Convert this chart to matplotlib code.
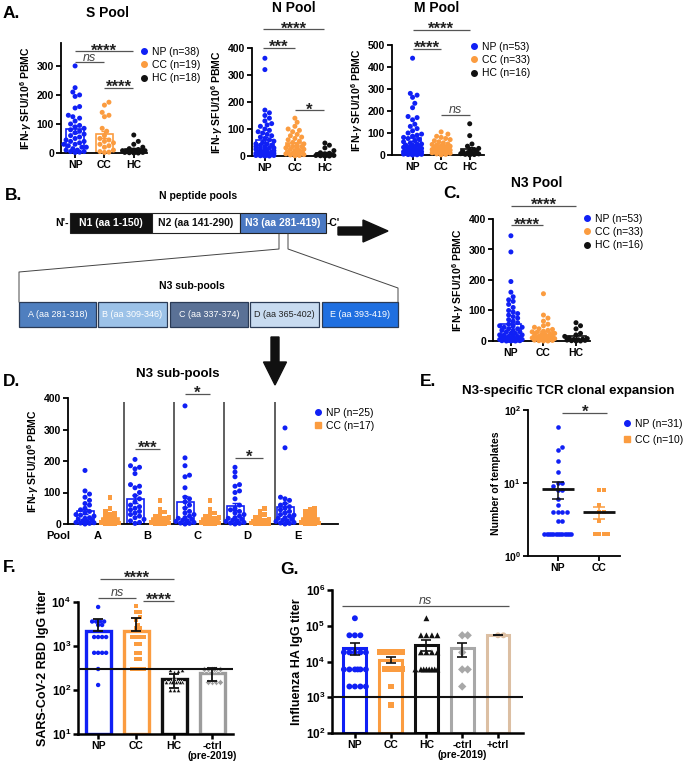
import numpy as np
import matplotlib
matplotlib.use('Agg')
import matplotlib.pyplot as plt
from matplotlib import patches
from matplotlib.lines import Line2D
from matplotlib.ticker import NullLocator

plt.rcParams['font.family'] = ['Liberation Sans', 'DejaVu Sans']
plt.rcParams['font.weight'] = 'bold'
plt.rcParams['axes.labelweight'] = 'bold'
plt.rcParams['mathtext.fontset'] = 'custom'
plt.rcParams['mathtext.rm'] = 'Liberation Sans:bold'
plt.rcParams['mathtext.it'] = 'Liberation Sans:italic:bold'
plt.rcParams['mathtext.bf'] = 'Liberation Sans:bold'
plt.rcParams['axes.linewidth'] = 1.3

BLUE = '#1020f5'
ORANGE = '#fb9c40'
BLACK = '#111111'
GRAY = '#9c9c9c'
TAN = '#dcbfa3'
LINE = '#555555'

# ---------------- data ----------------
groups3 = ['NP', 'CC', 'HC']

# A. S pool
s_np = [300, 225, 210, 200, 195, 160, 155, 130, 125, 120, 110, 100, 95, 90, 85, 80, 75, 70, 65,
        60, 55, 50, 45, 40, 40, 35, 30, 30, 25, 20, 20, 15, 10, 10, 5, 5, 3, 2]
s_cc = [175, 165, 140, 130, 125, 85, 75, 60, 50, 45, 40, 35, 30, 25, 20, 10, 5, 3, 2]
s_hc = [62, 40, 30, 20, 15, 12, 10, 8, 8, 6, 5, 5, 3, 2, 2, 1, 0, 0]

# A. N pool
n_np = [362, 320, 170, 160, 150, 140, 130, 120, 115, 110, 100, 95, 90, 85, 80, 75, 70, 65, 60, 55,
        50, 45, 45, 40, 40, 35, 35, 30, 30, 30, 25, 25, 20, 20, 20, 15, 15, 15, 10, 10,
        10, 10, 8, 6, 5, 5, 4, 3, 2, 2, 1, 0, 0]
n_cc = [140, 125, 110, 100, 95, 90, 80, 75, 70, 65, 60, 55, 50, 45, 40, 40, 35, 35, 30, 30,
        25, 25, 20, 20, 15, 15, 10, 10, 8, 5, 4, 2, 1]
n_hc = [48, 40, 30, 20, 12, 10, 8, 6, 5, 4, 3, 2, 2, 1, 0, 0]

# A. M pool
m_np = [440, 280, 272, 262, 235, 215, 175, 170, 160, 140, 130, 120, 110, 100, 95, 90, 85, 80, 75, 70,
        65, 60, 55, 50, 50, 45, 45, 40, 40, 35, 35, 30, 30, 25, 25, 20, 20, 20, 15, 15,
        15, 10, 10, 10, 8, 6, 5, 5, 4, 3, 2, 1, 0]
m_cc = [105, 95, 85, 80, 75, 70, 65, 60, 55, 50, 48, 45, 42, 40, 38, 35, 32, 30, 28, 25,
        25, 22, 20, 20, 18, 15, 15, 12, 10, 8, 5, 3, 1]
m_hc = [142, 88, 50, 40, 30, 25, 20, 15, 12, 10, 8, 6, 5, 3, 2, 0]

# C. N3 pool
n3_np = [345, 292, 195, 160, 145, 135, 130, 120, 110, 100, 95, 90, 85, 80, 75, 70, 65, 60, 55, 50,
         50, 45, 45, 40, 40, 35, 35, 30, 30, 25, 25, 20, 20, 20, 15, 15, 15, 10, 10, 10,
         8, 6, 5, 5, 4, 3, 2, 2, 1, 1, 0, 0, 0]
n3_cc = [155, 85, 75, 65, 55, 50, 45, 40, 38, 35, 32, 30, 28, 25, 22, 20, 20, 18, 15, 15,
         12, 12, 10, 10, 8, 8, 5, 5, 3, 2, 1, 0, 0]
n3_hc = [60, 50, 40, 25, 20, 15, 10, 8, 6, 5, 4, 3, 2, 1, 0, 0]

# D. N3 sub-pools
sub_labels = ['A', 'B', 'C', 'D', 'E']
subA_np = [170, 105, 95, 85, 75, 65, 60, 50, 45, 40, 35, 30, 28, 25, 20, 18, 15, 12, 10, 8, 5, 4, 3, 2, 0]
subA_cc = [85, 50, 40, 35, 30, 25, 20, 15, 12, 10, 8, 6, 5, 3, 2, 1, 0]
subB_np = [205, 185, 180, 175, 160, 125, 120, 115, 100, 90, 80, 70, 60, 55, 50, 45, 40, 35, 30, 25, 20, 15, 10, 5, 2]
subB_cc = [75, 45, 38, 30, 25, 20, 18, 15, 12, 10, 8, 6, 5, 3, 2, 1, 0]
subC_np = [375, 210, 185, 155, 150, 115, 85, 80, 70, 60, 50, 40, 35, 30, 25, 20, 18, 15, 12, 10, 8, 5, 3, 2, 0]
subC_cc = [75, 45, 35, 30, 25, 20, 18, 15, 12, 10, 8, 6, 5, 3, 2, 1, 0]
subD_np = [180, 165, 150, 125, 120, 105, 100, 80, 60, 50, 45, 40, 35, 30, 25, 20, 18, 15, 12, 10, 8, 5, 3, 2, 0]
subD_cc = [48, 40, 30, 25, 20, 15, 12, 10, 8, 6, 5, 4, 3, 2, 1, 0, 0]
subE_np = [305, 242, 85, 80, 75, 65, 60, 55, 50, 45, 40, 35, 30, 28, 25, 20, 18, 15, 12, 10, 8, 5, 3, 2, 0]
subE_cc = [50, 45, 40, 35, 30, 25, 20, 15, 12, 10, 8, 6, 5, 3, 2, 1, 0]

# E. TCR templates
tcr_np = [58, 31, 28, 20, 14, 10, 10, 9, 8, 8, 6, 5, 4, 4, 4, 4, 3, 3,
          2, 2, 2, 2, 2, 2, 2, 2, 2, 2, 2, 2, 2]
tcr_cc = [8, 8, 5, 4, 4, 3, 2, 2, 2, 2]

# F. RBD IgG titer
f_groups = ['NP', 'CC', 'HC', '-ctrl\n(pre-2019)']
rbd_np = [7700, 3600, 3600, 3600, 3600, 3000, 3000, 1600, 1600, 1600, 1600, 700, 700, 700, 700, 300, 130]
rbd_cc = [8100, 6000, 6000, 4500, 3900, 3000, 2500, 2500, 1600, 1600, 1600, 1600, 1100, 1100,
          700, 700, 500, 500, 300, 300, 300, 300]
rbd_hc = [280, 280, 270, 250, 200, 150, 150, 150, 150, 150, 150, 150, 150, 100, 100, 100]
rbd_ctrl = [300, 300, 300, 300, 300, 300, 150, 150, 150, 150]
rbd_cutoff = 300

# G. HA IgG titer
g_groups = ['NP', 'CC', 'HC', '-ctrl\n(pre-2019)', '+ctrl']
ha_np = [162000, 54000, 54000, 54000, 18000, 18000, 18000, 18000, 18000,
         6000, 6000, 6000, 6000, 6000, 6000, 2000, 2000, 2000, 2000]
ha_cc = [18000, 18000, 18000, 18000, 18000, 18000, 6000, 6000, 6000, 6000, 2000, 600]
ha_hc = [162000, 54000, 54000, 54000, 54000, 18000, 18000, 18000, 18000,
         6000, 6000, 6000, 6000, 6000, 6000, 6000, 6000]
ha_nctrl = [54000, 54000, 18000, 6000, 6000, 2000]
ha_pctrl = [54000, 54000]
ha_cutoff = 1000

# ---------------- figure ----------------
W, H = 691, 767
fig = plt.figure(figsize=(W / 100, H / 100), dpi=100)


def pax(l, t, r, b, lw=1.3):
    ax = fig.add_axes([l / W, 1 - b / H, (r - l) / W, (b - t) / H])
    ax.spines['top'].set_visible(False)
    ax.spines['right'].set_visible(False)
    ax.spines['left'].set_linewidth(lw)
    ax.spines['bottom'].set_linewidth(lw)
    ax.tick_params(labelsize=7.5, width=lw, length=3.5, pad=1.5)
    ax.patch.set_alpha(0)
    return ax


def ftext(x, y, s, **kw):
    return fig.text(x / W, 1 - y / H, s, **kw)


def swarm(ax, x0, vals, d, half):
    # simple beeswarm in pixel space
    vals = np.asarray(vals, float)
    pts = ax.transData.transform(np.column_stack([np.full(len(vals), x0), vals]))
    cx = pts[0, 0]
    ys = pts[:, 1]
    cands = [0.0]
    k = 1
    while k * d * 0.5 <= half:
        cands += [k * d * 0.5, -k * d * 0.5]
        k += 1
    offs = np.zeros(len(vals))
    placed = []
    for i in np.argsort(ys):
        best, bestd = 0.0, -1
        for c in cands:
            md = min((np.hypot(c - px, ys[i] - py) for px, py in placed), default=1e9)
            if md >= d:
                best = c
                break
            if md > bestd:
                best, bestd = c, md
        offs[i] = best
        placed.append((best, ys[i]))
    back = ax.transData.inverted().transform(np.column_stack([cx + offs, ys]))
    return back[:, 0]


def dots(ax, pos, vals, color, marker, s, d, half, width, err='sem', bar=True,
         bar_lw=1.2, ecolor=None, base=0, elw=1.0, cap=2.5, mec='none', upper=False):
    vals = np.asarray(vals, float)
    m = vals.mean()
    e = vals.std(ddof=1)
    if err == 'sem':
        e = e / np.sqrt(len(vals))
    if bar:
        ax.bar(pos, m - base, width, bottom=base, facecolor='none', edgecolor=color,
               linewidth=bar_lw, zorder=2)
    xs = swarm(ax, pos, vals, d, half)
    ax.scatter(xs, vals, s=s, c=color, marker=marker, edgecolors=mec, linewidths=0.4,
               zorder=3, clip_on=False)
    yerr = [[0], [e]] if upper else e
    ax.errorbar(pos, m, yerr=yerr, color=ecolor or color, capsize=cap, elinewidth=elw,
                capthick=elw, zorder=4)
    return m


def sig(ax, x1, x2, y, txt, fs=12):
    ax.plot([x1, x2], [y, y], color=LINE, lw=0.9, clip_on=False, solid_capstyle='butt')
    if txt == 'ns':
        ax.annotate('ns', ((x1 + x2) / 2, y), xytext=(0, 1.2), textcoords='offset points',
                    ha='center', va='baseline', fontsize=9, fontstyle='italic',
                    fontweight='normal', color='#444', annotation_clip=False)
    else:
        ax.annotate(txt, ((x1 + x2) / 2, y), xytext=(0, -3.0), textcoords='offset points',
                    ha='center', va='baseline', fontsize=fs, color='#222',
                    annotation_clip=False)


def legend(ax, labels, colors, markers, x, y, spacing=0.3, ms=4):
    hs = [Line2D([], [], ls='none', marker=m, color=c, markersize=ms)
          for c, m in zip(colors, markers)]
    ax.legend(hs, labels, loc='upper left', bbox_to_anchor=(x / W, 1 - y / H),
              bbox_transform=fig.transFigure, frameon=False, borderpad=0, borderaxespad=0,
              handlelength=0.6, handletextpad=0.45, labelspacing=spacing,
              prop={'size': 7.5, 'weight': 'normal'})


ifn_label = r'IFN-$\gamma$ SFU/10$^{6}$ PBMC'
cols3 = [BLUE, ORANGE, BLACK]

# ---- A: S pool ----
ax = pax(61, 43, 147, 153)
ax.set_xlim(-0.48, 2.45)
ax.set_ylim(0, 379)
ax.set_yticks([0, 100, 200, 300])
ax.set_xticks(range(3))
ax.set_xticklabels(groups3)
for i, (v, c) in enumerate(zip([s_np, s_cc, s_hc], cols3)):
    dots(ax, i, v, c, 'o', 13, 4.5, 12, 0.6)
sig(ax, 0, 1.97, 350, '****')
sig(ax, 0, 0.98, 312, 'ns')
sig(ax, 1, 1.97, 224, '****')
ax.set_ylabel(ifn_label, fontsize=7.5, labelpad=2)
legend(ax, ['NP (n=38)', 'CC (n=19)', 'HC (n=18)'], cols3, ['o', 'o', 'o'], 141, 47)
ftext(107, 13, 'S Pool', ha='center', va='center', fontsize=10)

# ---- A: N pool ----
ax = pax(252, 48, 330, 156)
ax.set_xlim(-0.43, 2.17)
ax.set_ylim(0, 400)
ax.set_yticks([0, 100, 200, 300, 400])
ax.set_xticks(range(3))
ax.set_xticklabels(groups3)
for i, (v, c) in enumerate(zip([n_np, n_cc, n_hc], cols3)):
    dots(ax, i, v, c, 'o', 13, 4.5, 11, 0.6)
sig(ax, -0.05, 1.97, 470, '****')
sig(ax, -0.05, 1, 400, '***')
sig(ax, 1, 1.97, 170, '*')
ax.set_ylabel(ifn_label, fontsize=7.5, labelpad=2)
ftext(294, 8, 'N Pool', ha='center', va='center', fontsize=10)

# ---- A: M pool ----
ax = pax(392, 45, 484, 155)
ax.set_xlim(-0.72, 2.5)
ax.set_ylim(0, 500)
ax.set_yticks([0, 100, 200, 300, 400, 500])
ax.set_xticks(range(3))
ax.set_xticklabels(groups3)
for i, (v, c) in enumerate(zip([m_np, m_cc, m_hc], cols3)):
    dots(ax, i, v, c, 'o', 13, 4.5, 11, 0.6)
sig(ax, 0, 2, 568, '****')
sig(ax, 0, 1, 482, '****')
sig(ax, 1, 2, 182, 'ns')
ax.set_ylabel(ifn_label, fontsize=7.5, labelpad=2)
legend(ax, ['NP (n=53)', 'CC (n=33)', 'HC (n=16)'], cols3, ['o', 'o', 'o'], 471, 42)
ftext(437, 8, 'M Pool', ha='center', va='center', fontsize=10)

# ---- C: N3 pool ----
ax = pax(493, 219, 590, 341)
ax.set_xlim(-0.55, 2.43)
ax.set_ylim(0, 400)
ax.set_yticks([0, 100, 200, 300, 400])
ax.set_xticks(range(3))
ax.set_xticklabels(groups3)
for i, (v, c) in enumerate(zip([n3_np, n3_cc, n3_hc], cols3)):
    dots(ax, i, v, c, 'o', 13, 4.5, 12, 0.6)
sig(ax, 0, 2, 443, '****')
sig(ax, 0, 1, 380, '****')
ax.set_ylabel(ifn_label, fontsize=7.5, labelpad=2)
legend(ax, ['NP (n=53)', 'CC (n=33)', 'HC (n=16)'], cols3, ['o', 'o', 'o'], 584, 214)
ftext(537, 183, 'N3 Pool', ha='center', va='center', fontsize=10)

# ---- D: N3 sub-pools ----
ax = pax(68, 398, 338, 524)
ax.set_xlim(-0.68, 10.12)
ax.set_ylim(0, 400)
ax.set_yticks([0, 100, 200, 300, 400])
sub_np = [subA_np, subB_np, subC_np, subD_np, subE_np]
sub_cc = [subA_cc, subB_cc, subC_cc, subD_cc, subE_cc]
for k in range(5):
    dots(ax, 2 * k, sub_np[k], BLUE, 'o', 13, 4.5, 9, 0.68)
    dots(ax, 2 * k + 1, sub_cc[k], ORANGE, 's', 12, 4.5, 9, 0.68)
ax.vlines([1.56, 3.56, 5.56, 7.6], 0, 387, color='#444', lw=1.2)
ax.set_xticks([0.5, 2.5, 4.5, 6.5, 8.5])
ax.set_xticklabels(sub_labels, fontsize=8)
ax.tick_params(axis='x', length=0, pad=5)
sig(ax, 2, 3, 238, '***')
sig(ax, 4, 5, 413, '*')
sig(ax, 6, 7.1, 210, '*')
ax.set_ylabel(ifn_label, fontsize=7.5, labelpad=2)
legend(ax, ['NP (n=25)', 'CC (n=17)'], [BLUE, ORANGE], ['o', 's'], 315, 408)
ftext(58, 536, 'Pool', ha='center', va='center', fontsize=8)
ftext(178, 374, 'N3 sub-pools', ha='center', va='center', fontsize=9.5)

# ---- E: TCR clonal expansion ----
ax = pax(528, 410, 620, 556)
ax.set_yscale('log')
ax.set_ylim(1, 100)
ax.set_xlim(-0.73, 1.51)
ax.set_yticks([1, 10, 100])
ax.set_yticklabels([r'$10^{0}$', r'$10^{1}$', r'$10^{2}$'])
ax.yaxis.set_minor_locator(NullLocator())
ax.set_xticks([0, 1])
ax.set_xticklabels(['NP', 'CC'])
for i, (v, c, mk, ec) in enumerate(zip([tcr_np, tcr_cc], [BLUE, ORANGE], ['o', 's'], [BLACK, ORANGE])):
    v = np.asarray(v, float)
    xs = swarm(ax, i, v, 4.5, 14)
    ax.scatter(xs, v, s=11, c=c, marker=mk, linewidths=0, zorder=3, clip_on=False)
    m = v.mean()
    e = v.std(ddof=1) / np.sqrt(len(v))
    ax.hlines(m, i - 0.38, i + 0.38, color=BLACK, lw=2, zorder=5)
    ax.errorbar(i, m, yerr=e, color=ec, capsize=4, elinewidth=1.1, capthick=1.1, zorder=4)
sig(ax, 0.1, 1.2, 91, '*')
ax.set_ylabel('Number of templates', fontsize=7.5, labelpad=2)
legend(ax, ['NP (n=31)', 'CC (n=10)'], [BLUE, ORANGE], ['o', 's'], 624, 419, spacing=0.55)
ftext(568, 391, 'N3-specific TCR clonal expansion', ha='center', va='center', fontsize=9.5)

# ---- F: RBD titer ----
ax = pax(78, 602, 233, 734, lw=1.8)
ax.set_yscale('log')
ax.set_ylim(10, 1e4)
ax.set_xlim(-0.53, 3.55)
ax.set_yticks([10, 100, 1000, 10000])
ax.set_yticklabels([r'$10^{1}$', r'$10^{2}$', r'$10^{3}$', r'$10^{4}$'], fontsize=8.5)
ax.yaxis.set_minor_locator(NullLocator())
ax.set_xticks(range(4))
ax.set_xticklabels(f_groups, linespacing=1.0)
ax.axhline(rbd_cutoff, color=BLACK, lw=1.5, zorder=5)
fcols = [BLUE, ORANGE, BLACK, GRAY]
fmk = ['o', 's', '^', 'D']
fmec = ['none', 'none', 'white', 'white']
fupper = [True, True, False, False]
for i, v in enumerate([rbd_np, rbd_cc, rbd_hc, rbd_ctrl]):
    dots(ax, i, v, fcols[i], fmk[i], 10, 4.0, 11, 0.66, err='sd', bar_lw=2.4,
         ecolor=BLACK, base=10, elw=1.3, cap=3.5, mec=fmec[i], upper=fupper[i])
sig(ax, 0.05, 2.0, 34000, '****')
sig(ax, 0, 1, 12300, 'ns')
sig(ax, 1.18, 2.0, 10500, '****')
ax.set_ylabel('SARS-CoV-2 RBD IgG titer', fontsize=9, labelpad=2)

# ---- G: HA titer ----
ax = pax(332, 590, 523, 733, lw=1.8)
ax.set_yscale('log')
ax.set_ylim(100, 1e6)
ax.set_xlim(-0.64, 4.7)
ax.set_yticks([1e2, 1e3, 1e4, 1e5, 1e6])
ax.set_yticklabels([r'$10^{2}$', r'$10^{3}$', r'$10^{4}$', r'$10^{5}$', r'$10^{6}$'], fontsize=8.5)
ax.yaxis.set_minor_locator(NullLocator())
ax.set_xticks(range(5))
ax.set_xticklabels(g_groups, linespacing=1.0)
ax.axhline(ha_cutoff, color=BLACK, lw=1.5, zorder=5)
gcols = [BLUE, ORANGE, BLACK, '#a8a8a8', TAN]
gmk = ['o', 's', '^', 'D', 'o']
for i, v in enumerate([ha_np, ha_cc, ha_hc, ha_nctrl, ha_pctrl]):
    dots(ax, i, v, gcols[i], gmk[i], 18, 5.5, 11, 0.64, err='sem', bar_lw=2.2,
         ecolor=BLACK, base=100, elw=1.2, cap=3.5)
sig(ax, -0.36, 4.31, 355000, 'ns')
ax.set_ylabel('Influenza HA IgG titer', fontsize=9, labelpad=2)

# ---------------- B: diagram overlay ----------------
ov = fig.add_axes([0, 0, 1, 1])
ov.set_xlim(0, W)
ov.set_ylim(H, 0)
ov.axis('off')

ov.text(198, 196, 'N peptide pools', ha='center', va='center', fontsize=7.5)
nboxes = [(70, 152, '#111111', 'white', 'N1 (aa 1-150)'),
          (152, 240, 'white', '#111111', 'N2 (aa 141-290)'),
          (240, 326, '#4a78c2', 'white', 'N3 (aa 281-419)')]
for x0, x1, fc, tc, lab in nboxes:
    ov.add_patch(patches.Rectangle((x0, 213), x1 - x0, 20, facecolor=fc,
                                   edgecolor='#222222', lw=0.8))
    ov.text((x0 + x1) / 2, 223.5, lab, ha='center', va='center', fontsize=7.5, color=tc)
ov.text(69, 223.5, "N'-", ha='right', va='center', fontsize=7.5)
ov.text(327, 223.5, "-C'", ha='left', va='center', fontsize=7.5)
ov.plot([279, 279, 19, 19], [234, 249, 272, 302], color='#444', lw=0.7)
ov.plot([288, 288, 398, 398], [234, 249, 288, 302], color='#444', lw=0.7)
ov.text(192, 286, 'N3 sub-pools', ha='center', va='center', fontsize=7.5)
sboxes = [(19, 96, '#4f7fbf', 'white', 'A (aa 281-318)'),
          (98, 167, '#9cc2e8', 'white', 'B (aa 309-346)'),
          (170, 248, '#5a7196', 'white', 'C (aa 337-374)'),
          (250, 319, '#c8dbf0', '#222222', 'D (aa 365-402)'),
          (322, 398, '#1f6fe0', 'white', 'E (aa 393-419)')]
for x0, x1, fc, tc, lab in sboxes:
    ov.add_patch(patches.Rectangle((x0, 302), x1 - x0, 25, facecolor=fc,
                                   edgecolor='#2a3a55', lw=0.9))
    ov.text((x0 + x1) / 2, 314.5, lab, ha='center', va='center', fontsize=6.5,
            color=tc, fontweight='normal')
ov.add_patch(patches.FancyArrow(338, 231, 50, 0, width=8, head_width=22, head_length=25,
                                length_includes_head=True, color='#111111'))
ov.add_patch(patches.FancyArrow(275, 337, 0, 48, width=8, head_width=23, head_length=23,
                                length_includes_head=True, color='#111111'))

# panel letters
for lab, x, y in [('A.', 3, 13), ('B.', 5, 195), ('C.', 443, 193), ('D.', 3, 382),
                  ('E.', 420, 382), ('F.', 3, 568), ('G.', 280, 570)]:
    ftext(x, y, lab, ha='left', va='center', fontsize=12.5)

fig.savefig('out.png', dpi=100)
